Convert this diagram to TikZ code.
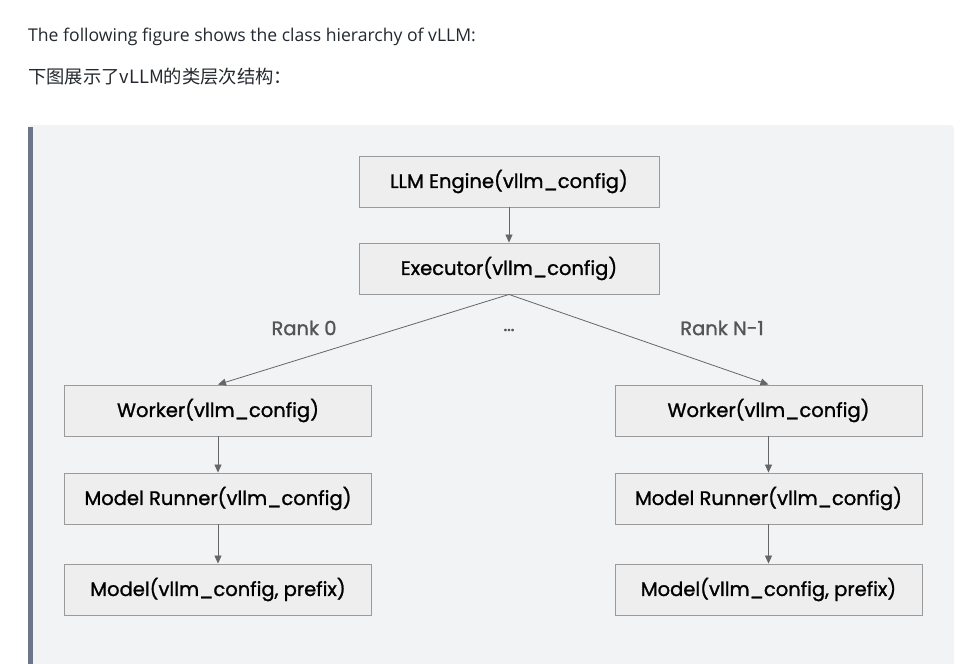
\documentclass[tikz,border=0pt]{standalone}
\usepackage{fontspec}
\setmainfont{Open Sans}
\newfontfamily\cjkfont{Noto Sans CJK SC}
\newfontfamily\boxfont{Poppins}[RawFeature={embolden=1.2}]
\newfontfamily\dotfont{Poppins}[RawFeature={embolden=2.5}]
\usetikzlibrary{arrows.meta}
\definecolor{panelbg}{HTML}{F2F3F5}
\definecolor{barcol}{HTML}{6B7689}
\definecolor{boxfill}{HTML}{EEEEEE}
\definecolor{boxline}{HTML}{9A9A9A}
\definecolor{arrowcol}{HTML}{666666}
\definecolor{labelcol}{HTML}{555555}
\definecolor{bodytext}{HTML}{24292F}
\tikzset{
  classbox/.style={draw=boxline, fill=boxfill, line width=0.9pt, minimum width=307pt, minimum height=51pt, inner sep=0pt, font=\boxfont\fontsize{19.5}{22}\selectfont, text=black},
  topbox/.style={classbox, minimum width=300pt},
  conn/.style={draw=arrowcol, line width=0.8pt, -{Triangle[length=8pt,width=7pt]}},
  ranklabel/.style={font=\boxfont\fontsize{19.5}{22}\selectfont, text=labelcol},
}
\begin{document}
\begin{tikzpicture}[x=1pt,y=-1pt]
\useasboundingbox (0,0) rectangle (964,664);
\fill[white] (0,0) rectangle (964,664);
\fill[panelbg, rounded corners=4pt] (28,700) -- (28,125) -- (954,125) -- (954,700) -- cycle;
\fill[barcol] (28,127) rectangle (33,664);
\node[anchor=base west, inner sep=0pt, text=bodytext, font=\fontsize{17.6}{20}\selectfont] (l1) at (28,41) {The following figure shows the class hierarchy of vLLM:};
\node[anchor=base west, inner sep=0pt, text=bodytext, font=\cjkfont\fontsize{18.3}{20}\selectfont] (l2) at (28,83) {下图展示了vLLM的类层次结构：};

\node[topbox] (engine) at (509,181.5) {LLM Engine(vllm\_config)};
\node[topbox] (exec) at (509,268.5) {Executor(vllm\_config)};

\node[classbox] (w1) at (218,410.5) {Worker(vllm\_config)};
\node[classbox] (r1) at (218,498.5) {Model Runner(vllm\_config)};
\node[classbox] (m1) at (218,589.5) {Model(vllm\_config, prefix)};

\node[classbox] (w2) at (768.5,410.5) {Worker(vllm\_config)};
\node[classbox] (r2) at (768.5,498.5) {Model Runner(vllm\_config)};
\node[classbox] (m2) at (768.5,589.5) {Model(vllm\_config, prefix)};

\node[ranklabel] (rank0) at (304,328) {Rank 0};
\node[ranklabel] (rankn) at (722,328) {Rank N-1};
\node[ranklabel, font=\dotfont\fontsize{17}{18}\selectfont] (dots) at (509,330) {...};

\draw[conn] (engine) -- (exec);
\draw[conn] (exec.south) -- (w1.north);
\draw[conn] (exec.south) -- (w2.north);
\draw[conn] (w1) -- (r1);
\draw[conn] (r1) -- (m1);
\draw[conn] (w2) -- (r2);
\draw[conn] (r2) -- (m2);
\end{tikzpicture}
\end{document}
